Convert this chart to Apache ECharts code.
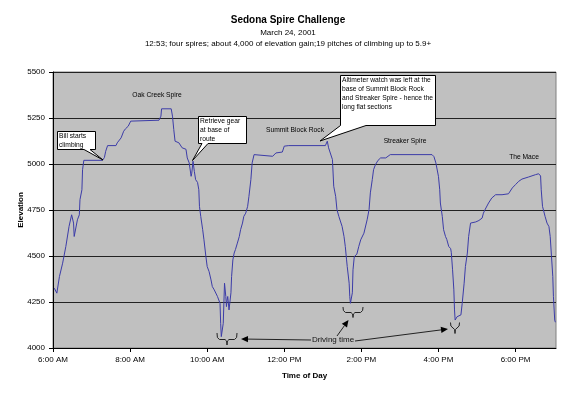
<!DOCTYPE html>
<html><head><meta charset="utf-8">
<script src="https://cdn.jsdelivr.net/npm/echarts@6/dist/echarts.min.js"></script>
<style>html,body{margin:0;padding:0;background:#fff}#c{width:576px;height:394px}</style>
</head><body><div id="c"></div>
<script>
// ---- data ----
const times = ["6:02","6:06","6:10","6:15","6:20","6:25","6:29","6:31","6:32","6:33","6:34","6:36","6:38","6:41","6:42","6:45","6:46","6:48",
"7:17","7:20","7:22","7:25","7:38","7:40","7:46","7:50","7:53","7:57","8:01","8:04","8:45","8:48","8:49","9:04","9:06","9:08","9:10","9:13","9:16","9:21","9:27","9:29","9:32","9:35","9:36","9:38","9:40","9:42","9:45","9:47","9:48","9:50","9:53","9:55","9:58",
"10:00","10:03","10:06","10:08","10:11","10:13","10:16","10:18","10:20","10:21","10:22","10:24","10:25","10:27","10:29","10:30","10:31","10:32","10:34","10:36","10:37","10:38","10:40","10:42","10:44","10:47","10:50","10:52","10:55","10:57",
"11:00","11:03","11:05","11:08","11:10","11:13","11:16","11:42","11:47","11:57","12:00","12:07",
"13:04","13:07","13:09","13:12","13:15","13:16","13:17","13:20","13:22","13:25","13:28","13:30","13:33","13:35","13:37","13:38","13:41","13:42","13:43","13:45","13:46","13:47","13:49","13:53","13:56","13:59",
"14:04","14:09","14:12","14:14","14:17","14:19","14:22","14:26","14:30","14:38","14:40","14:45","15:50","15:53","15:56",
"16:00","16:02","16:03","16:06","16:08","16:11","16:13","16:16","16:19","16:20","16:22","16:24","16:25","16:26","16:29","16:32","16:35","16:37","16:40","16:42","16:45","16:47","16:50","16:52","16:58",
"17:03","17:08","17:10","17:13","17:18","17:23","17:29","17:39","17:49","17:55",
"18:00","18:05","18:10","18:20","18:31","18:36","18:39","18:40","18:42","18:46","18:49","18:52","18:54","18:56","18:58","18:59","19:01","19:02"];
const elevation = [4325,4298,4388,4461,4552,4661,4724,4730,4679,4606,4597,4605,4697,4724,4806,4860,4969,5020,
5020,5035,5069,5100,5100,5115,5142,5178,5192,5205,5233,5238,5238,5260,5300,5300,5260,5187,5124,5130,5115,5088,5080,5033,5006,4933,4950,5015,4960,4915,4900,4860,4770,4715,4643,4588,4497,
4443,4415,4370,4334,4316,4310,4280,4270,4243,4134,4062,4053,4134,4352,4280,4225,4260,4280,4207,4207,4300,4388,4479,4516,4535,4570,4606,4643,4679,4715,
4733,4770,4824,4915,5006,5051,5047,5042,5060,5065,5097,5100,
5100,5124,5088,5080,5024,4951,4879,4824,4752,4715,4705,4661,4606,4552,4479,4443,4352,4279,4243,4250,4300,4425,4497,4510,4552,4588,
4624,4697,4752,4843,4915,4969,4997,5020,5033,5033,5042,5051,5051,5040,5006,
4933,4860,4788,4715,4643,4606,4590,4552,4540,4520,4425,4316,4207,4152,4170,4174,4180,4243,4352,4443,4516,4606,4679,4688,4685,
4693,4706,4733,4755,4788,4815,4833,4833,4838,4870,
4888,4906,4918,4929,4942,4947,4935,4860,4770,4715,4679,4660,4606,4497,4388,4279,4152,4140];
const xTickLabels = ["6:00 AM","8:00 AM","10:00 AM","12:00 PM","2:00 PM","4:00 PM","6:00 PM"];
const yTickValues = [4000,4250,4500,4750,5000,5250,5500];
const titleText = "Sedona Spire Challenge";
const subtitleLines = ["March 24, 2001","12:53; four spires; about 4,000 of elevation gain;19 pitches of climbing up to 5.9+"];
const spireNames = ["Oak Creek Spire","Summit Block Rock","Streaker Spire","The Mace"];
const calloutTexts = ["Bill starts\nclimbing","Retrieve gear\nat base of\nroute","Altimeter watch was left at the\nbase of Summit Block Rock\nand Streaker Spire - hence the\nlong flat sections"];
const drivingText = "Driving time";

// ---- build ----
const toMin = s => { const [h,m] = s.split(':').map(Number); return h*60+m; };
const seriesData = times.map((t,i) => [toMin(t), elevation[i]]);
const FONT = "'Liberation Sans', Arial, sans-serif";
const xMin = 360, xMax = 1143, xInt = 120;

const chart = echarts.init(document.getElementById('c'), null, {renderer:'canvas'});

function txt(x,y,text,size,opts){
  opts = opts || {};
  return {type:'text', x:x, y:y, silent:true, z:10,
    style:Object.assign({text:text, font:(opts.bold?'bold ':'')+size+'px '+FONT, fill:'#000', textAlign:'center', textVerticalAlign:'middle'}, opts.style||{})};
}
function arrow(x1,y1,x2,y2){
  const dx=x2-x1, dy=y2-y1, L=Math.hypot(dx,dy), ux=dx/L, uy=dy/L, nx=-uy, ny=ux, hl=7, hw=3.2;
  const bx=x2-ux*hl, by=y2-uy*hl;
  return [
    {type:'line', silent:true, z:10, shape:{x1:x1,y1:y1,x2:bx,y2:by}, style:{stroke:'#222', lineWidth:1}},
    {type:'polygon', silent:true, z:10, shape:{points:[[x2,y2],[bx+nx*hw,by+ny*hw],[bx-nx*hw,by-ny*hw]]}, style:{fill:'#000'}}
  ];
}
function brace(x1,x2,top,bar,bottom){
  const cx=(x1+x2)/2;
  const pts=[[x1,top],[x1+0.4,bar-2],[x1+2.5,bar],[cx-2,bar],[cx-0.4,bar+1.5],[cx,bottom],[cx+0.4,bar+1.5],[cx+2,bar],[x2-2.5,bar],[x2-0.4,bar-2],[x2,top]];
  return {type:'polyline', silent:true, z:10, shape:{points:pts}, style:{stroke:'#222', fill:null, lineWidth:1}};
}
function callout(pts){
  return {type:'polygon', silent:true, z:9, shape:{points:pts}, style:{fill:'#fff', stroke:'#000', lineWidth:1}};
}
const small = 6.7;
const graphics = [
  txt(288,20,titleText,10,{bold:true}),
  txt(288,33,subtitleLines[0],8),
  txt(288,44,subtitleLines[1],8),
  txt(157,95,spireNames[0],small),
  txt(295,130,spireNames[1],small),
  txt(405,141,spireNames[2],small),
  txt(524,157,spireNames[3],small),
  callout([[57.5,131.5],[95.5,131.5],[95.5,149.5],[90,149.5],[103,160],[84,149.5],[57.5,149.5]]),
  txt(59,132,calloutTexts[0],small,{style:{textAlign:'left',textVerticalAlign:'top',lineHeight:8.5}}),
  callout([[198.5,116.5],[246.5,116.5],[246.5,143.5],[208,143.5],[192.5,160.5],[202,143.5],[198.5,143.5]]),
  txt(200,117,calloutTexts[1],small,{style:{textAlign:'left',textVerticalAlign:'top',lineHeight:9}}),
  callout([[340.5,75.5],[435.5,75.5],[435.5,125.5],[366,125.5],[320,141],[340.5,125.5]]),
  txt(342,76,calloutTexts[2],small,{style:{textAlign:'left',textVerticalAlign:'top',lineHeight:9}}),
  txt(333,340,drivingText,8,{style:{fill:'#111'}}),
  ...arrow(311,340,241,339),
  ...arrow(337,336,348.5,320),
  ...arrow(355,341,448,329),
  brace(217,237,333,339.5,345),
  brace(343,363,307,312.5,317.5),
  brace(450.5,459.5,322.5,328,333.5)
];

chart.setOption({
  animation:false,
  backgroundColor:'#fff',
  grid:{left:53, right:20, top:72, bottom:46, show:true, backgroundColor:'#c0c0c0', borderColor:'#808080', borderWidth:1},
  xAxis:{
    type:'value', min:xMin, max:xMax, interval:xInt,
    name:'Time of Day', nameLocation:'middle', nameGap:24,
    nameTextStyle:{fontFamily:FONT, fontSize:8, fontWeight:'bold', color:'#000'},
    axisLine:{show:true, onZero:false, lineStyle:{color:'#000', width:1}},
    axisTick:{show:true, length:4, inside:false, lineStyle:{color:'#000'}},
    splitLine:{show:false},
    axisLabel:{fontFamily:FONT, fontSize:8, color:'#000', margin:8, showMaxLabel:false,
      formatter: v => { const i=Math.round((v-xMin)/xInt); return xTickLabels[i]||''; }}
  },
  yAxis:{
    type:'value', min:yTickValues[0], max:yTickValues[yTickValues.length-1], interval:yTickValues[1]-yTickValues[0],
    name:'Elevation', nameLocation:'middle', nameGap:28, nameRotate:90, nameMoveOverlap:false,
    nameTextStyle:{fontFamily:FONT, fontSize:8, fontWeight:'bold', color:'#000'},
    axisLine:{show:true, lineStyle:{color:'#000', width:1}},
    axisTick:{show:true, length:4, inside:false, lineStyle:{color:'#000'}},
    splitLine:{show:true, lineStyle:{color:'#222', width:1}},
    axisLabel:{fontFamily:FONT, fontSize:8, color:'#000', margin:8, formatter: v => String(v)}
  },
  series:[{
    type:'line', data:seriesData, showSymbol:false, symbol:'none',
    lineStyle:{color:'#3c3ca8', width:1}, z:3
  }],
  graphic:{elements:graphics}
});
</script>
</body></html>
